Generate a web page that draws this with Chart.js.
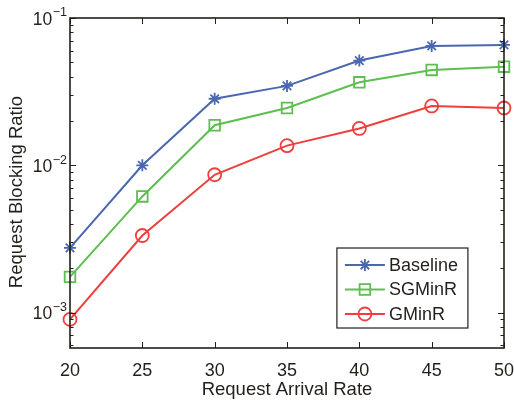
<!DOCTYPE html>
<html>
<head>
<meta charset="utf-8">
<script src="https://cdn.jsdelivr.net/npm/chart.js@4/dist/chart.umd.min.js"></script>
<style>
html,body{margin:0;padding:0;background:#fff;}
#wrap{width:514px;height:400px;}
</style>
</head>
<body>
<div id="wrap"><canvas id="c" width="514" height="400"></canvas></div>
<script>
// ---- data ----
const arrivalRates = [20, 25, 30, 35, 40, 45, 50];
const baseline = [0.00275, 0.0100, 0.0283, 0.0346, 0.0514, 0.0646, 0.0656];
const sgminr   = [0.00175, 0.00615, 0.0187, 0.0245, 0.0366, 0.0444, 0.0467];
const gminr    = [0.00090, 0.00334, 0.00863, 0.0136, 0.0178, 0.0253, 0.0245];
const seriesNames = ['Baseline', 'SGMinR', 'GMinR'];
const xTicks = [20, 25, 30, 35, 40, 45, 50];
const yDecadeExponents = [-3, -2, -1];
const xTitle = 'Request Arrival Rate';
const yTitle = 'Request Blocking Ratio';

const FONT = '"Liberation Sans", Arial, Helvetica, sans-serif';
const INK = '#231f1a';
const colors = ['#4a67b0', '#5cbf4f', '#ef3e3e'];
const markers = ['star', 'rect', 'circle'];
const markerRadius = [6, 7.5, 6.5];

function pts(arr){ return arrivalRates.map((x,i)=>({x:x, y:arr[i]})); }

function drawMarker(ctx, style, x, y, r){
  ctx.beginPath();
  if (style === 'star'){
    ctx.moveTo(x - r, y); ctx.lineTo(x + r, y);
    ctx.moveTo(x, y - r); ctx.lineTo(x, y + r);
    const d = r * Math.SQRT1_2;
    ctx.moveTo(x - d, y - d); ctx.lineTo(x + d, y + d);
    ctx.moveTo(x - d, y + d); ctx.lineTo(x + d, y - d);
  } else if (style === 'rect'){
    const s = r * Math.SQRT1_2;
    ctx.rect(x - s, y - s, 2*s, 2*s);
  } else {
    ctx.arc(x, y, r, 0, Math.PI*2);
  }
  ctx.stroke();
}

const axesPlugin = {
  id: 'matlabAxes',
  afterDraw(chart){
    const ctx = chart.ctx;
    const a = chart.chartArea;
    const xs = chart.scales.x, ys = chart.scales.y;
    ctx.save();
    ctx.strokeStyle = INK;
    ctx.lineWidth = 1;
    // minor/major y ticks (inside, both sides)
    ctx.beginPath();
    for (let d = -4; d <= -1; d++){
      for (let m = 1; m <= 9; m++){
        const v = m * Math.pow(10, d);
        if (v < ys.min * 0.9999 || v > ys.max * 1.0001) continue;
        const py = Math.round(ys.getPixelForValue(v)) + 0.5;
        const len = (m === 1) ? 6 : 3.5;
        ctx.moveTo(a.left, py); ctx.lineTo(a.left + len, py);
        ctx.moveTo(a.right, py); ctx.lineTo(a.right - len, py);
      }
    }
    // x ticks (inside, top and bottom)
    xTicks.forEach(v => {
      const px = Math.round(xs.getPixelForValue(v)) + 0.5;
      ctx.moveTo(px, a.bottom); ctx.lineTo(px, a.bottom - 6);
      ctx.moveTo(px, a.top); ctx.lineTo(px, a.top + 6);
    });
    ctx.stroke();
    // frame
    ctx.lineWidth = 1.6;
    ctx.strokeRect(a.left, a.top, a.right - a.left, a.bottom - a.top);

    // y tick labels 10^e
    ctx.fillStyle = INK;
    ctx.textBaseline = 'middle';
    yDecadeExponents.forEach(e => {
      const py = ys.getPixelForValue(Math.pow(10, e));
      const sup = '\u2212' + Math.abs(e);
      ctx.font = '12.5px ' + FONT;
      const sw = ctx.measureText(sup).width;
      const supRight = a.left - 3;
      ctx.textAlign = 'right';
      ctx.fillText(sup, supRight, py - 5);
      ctx.font = '17.5px ' + FONT;
      ctx.fillText('10', supRight - sw - 0.5, py + 2);
    });

    // y title
    ctx.save();
    ctx.translate(17, (a.top + a.bottom) / 2 + 9);
    ctx.rotate(-Math.PI/2);
    ctx.font = '18.5px ' + FONT;
    ctx.textAlign = 'center';
    ctx.textBaseline = 'middle';
    ctx.fillText(yTitle, 0, 0);
    ctx.restore();

    // legend inside plot
    const bx = a.left + (a.right - a.left) * 0.615, by = a.top + (a.bottom - a.top) * 0.697;
    const bw = 131, bh = 80;
    ctx.fillStyle = '#fff';
    ctx.fillRect(bx, by, bw, bh);
    ctx.lineWidth = 1.2;
    ctx.strokeStyle = INK;
    ctx.strokeRect(bx, by, bw, bh);
    chart.data.datasets.forEach((ds, i) => {
      const ry = by + 17 + i * 24.5;
      ctx.strokeStyle = ds.borderColor;
      ctx.lineWidth = 2;
      ctx.beginPath();
      ctx.moveTo(bx + 8, ry); ctx.lineTo(bx + 48, ry);
      ctx.stroke();
      ctx.lineWidth = 1.8;
      drawMarker(ctx, markers[i], bx + 28, ry, markerRadius[i]);
      ctx.fillStyle = INK;
      ctx.font = '18px ' + FONT;
      ctx.textAlign = 'left';
      ctx.textBaseline = 'middle';
      ctx.fillText(ds.label, bx + 52, ry + 1);
    });
    ctx.restore();
  }
};

const datasets = [baseline, sgminr, gminr].map((arr, i) => ({
  label: seriesNames[i],
  data: pts(arr),
  borderColor: colors[i],
  backgroundColor: 'rgba(0,0,0,0)',
  borderWidth: 2,
  pointStyle: markers[i],
  pointRadius: markerRadius[i],
  pointBorderWidth: 1.8,
  pointBorderColor: colors[i],
  pointBackgroundColor: 'rgba(0,0,0,0)',
  pointHoverRadius: markerRadius[i],
  tension: 0,
  clip: false
}));

new Chart(document.getElementById('c'), {
  type: 'line',
  data: { datasets },
  options: {
    responsive: false,
    animation: false,
    devicePixelRatio: 1,
    layout: { padding: { top: 18, right: 10, left: 0, bottom: 0 } },
    plugins: { legend: { display: false }, tooltip: { enabled: false } },
    scales: {
      x: {
        type: 'linear', min: 20, max: 50,
        afterBuildTicks: s => { s.ticks = xTicks.map(v => ({ value: v })); },
        ticks: { color: INK, font: { family: FONT, size: 18 }, padding: 12, maxRotation: 0,
                 callback: v => String(v) },
        grid: { display: false, drawTicks: false },
        border: { display: false },
        title: { display: true, text: xTitle, color: INK, font: { family: FONT, size: 18.5 },
                 padding: { top: 0, bottom: -1 } },
        afterFit: s => { s.height = 52; s.paddingLeft = 0; s.paddingRight = 0; }
      },
      y: {
        type: 'logarithmic', min: Math.pow(10, -3.24), max: 0.1,
        ticks: { display: false },
        grid: { display: false, drawTicks: false },
        border: { display: false },
        afterFit: s => { s.width = 70; s.paddingTop = 0; s.paddingBottom = 0; }
      }
    }
  },
  plugins: [axesPlugin]
});
</script>
</body>
</html>
